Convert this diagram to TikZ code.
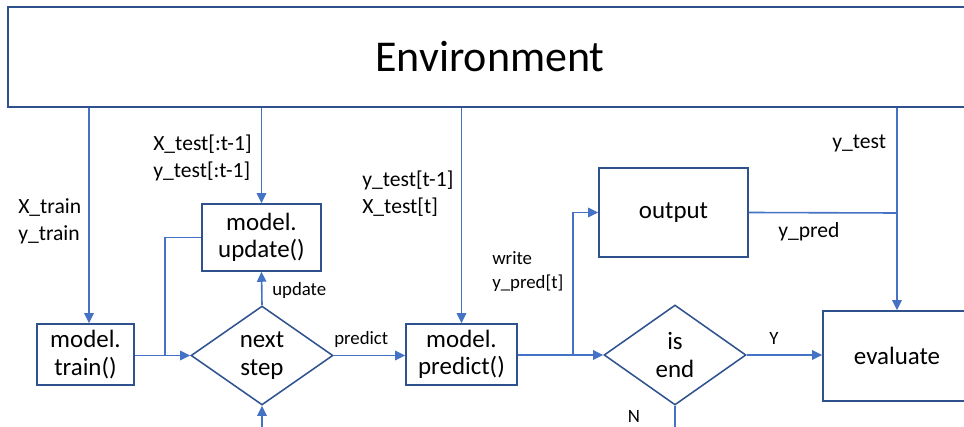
\documentclass[tikz,border=0pt]{standalone}
\usepackage{fontspec}
\setmainfont{Carlito}
\usetikzlibrary{shapes.geometric,arrows.meta,calc}
\definecolor{lnblue}{HTML}{4472C4}
\definecolor{bdblue}{HTML}{2F528F}
\tikzset{
  box/.style={draw=bdblue, line width=1.15pt, fill=white, inner sep=0pt, align=center,
    font=\fontsize{18.7}{20.6}\selectfont},
  dia/.style={draw=bdblue, line width=1.15pt, fill=white, shape=diamond, inner sep=0pt, align=center,
    font=\fontsize{18.7}{20.6}\selectfont},
  conn/.style={draw=lnblue, line width=1.2pt},
  arr/.style={conn, -{Triangle[length=7.5pt,width=7pt]}},
  biglbl/.style={anchor=west, inner sep=0pt, align=left, font=\fontsize{16.2}{20}\selectfont},
  smalllbl/.style={anchor=west, inner sep=0pt, align=left, font=\fontsize{14.1}{18}\selectfont},
}
\begin{document}
\begin{tikzpicture}[x=0.75pt,y=-0.75pt]
\useasboundingbox (0,0) rectangle (964,427);
\clip (0,0) rectangle (964,427);
% nodes
\node[box, minimum width=964*0.75pt, minimum height=100*0.75pt, font=\fontsize{33}{36}\selectfont] (env) at (490,57) {Environment};
\node[box, minimum width=97*0.75pt, minimum height=61*0.75pt] (train) at (85.5,354.5) {model.\\train()};
\node[box, minimum width=119*0.75pt, minimum height=67*0.75pt] (update) at (261.5,237.5) {model.\\update()};
\node[box, minimum width=111*0.75pt, minimum height=61*0.75pt] (predict) at (461.5,354.5) {model.\\predict()};
\node[box, minimum width=149*0.75pt, minimum height=89*0.75pt] (output) at (673.5,212.5) {output};
\node[box, minimum width=148*0.75pt, minimum height=90*0.75pt] (eval) at (897,356) {evaluate};
\node[dia, minimum width=142*0.75pt, minimum height=99*0.75pt] (next) at (262,355.5) {next\\step};
\node[dia, minimum width=142*0.75pt, minimum height=100*0.75pt] (isend) at (675,355) {is\\end};
% coordinates
\coordinate (trtop) at ([xshift=3.5*0.75pt]train.north);
\coordinate (j1) at (165,355);
\coordinate (j2) at (573,355);
\coordinate (j3) at (897,213);
\coordinate (bot1) at (262,427);
\coordinate (bot2) at (675,427);
% connectors
\draw[arr] (env.south -| trtop) -- (trtop);
\draw[arr] (env.south -| update.north) -- (update.north);
\draw[arr] (env.south -| predict.north) -- (predict.north);
\draw[arr] (env.south -| eval.north) -- (eval.north);
\draw[arr] (train.east |- next.west) -- (next.west);
\draw[conn] (update.west) -| (j1);
\draw[arr] (next.north) -- (update.south);
\draw[arr] (bot1) -- (next.south);
\draw[arr] (next.east) -- (predict.west |- next.east);
\draw[arr] (predict.east |- isend.west) -- (isend.west);
\draw[arr] (j2) |- (output.west);
\draw[conn] (output.east) -- (j3);
\draw[arr] (isend.east) -- (eval.west |- isend.east);
\draw[conn] (isend.south) -- (bot2);
% labels
\node[biglbl] (l1) at (18,221) {X\_train\\y\_train};
\node[biglbl] (l2) at (153,158) {X\_test[:t-1]\\y\_test[:t-1]};
\node[biglbl] (l3) at (362,194) {y\_test[t-1]\\X\_test[t]};
\node[smalllbl] (l4) at (492,272) {write\\y\_pred[t]};
\node[smalllbl] (l5) at (272,290) {update};
\node[smalllbl] (l6) at (334,339) {predict};
\node[biglbl] (l7) at (832,143) {y\_test};
\node[biglbl] (l8) at (778,232) {y\_pred};
\node[smalllbl, anchor=center] (l9) at (774,338) {Y};
\node[smalllbl, anchor=center] (l10) at (634,416) {N};
\end{tikzpicture}
\end{document}
